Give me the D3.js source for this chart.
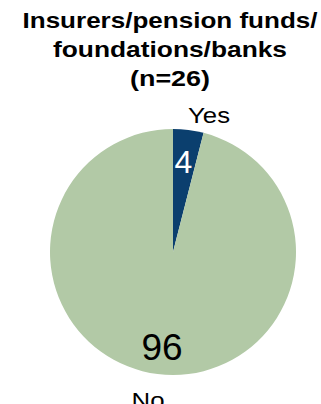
<!DOCTYPE html>
<html>
<head>
<meta charset="utf-8">
<script src="https://cdn.jsdelivr.net/npm/d3@7"></script>
<style>
  html, body { margin: 0; padding: 0; background: #fff; }
  svg { display: block; font-family: "Liberation Sans", Arial, sans-serif; }
</style>
</head>
<body>
<svg id="chart" width="321" height="404"></svg>
<script>
// Share of respondents (%), n=26
const categories = ["Yes", "No"];
const values = [4, 96];
const colors = ["#0b3f6e", "#b2c9a6"];
const titleLines = ["Insurers/pension funds/", "foundations/banks", "(n=26)"];

const svg = d3.select("#chart");
const cx = 173, cy = 252, r = 123;

// Title: wide bold lines, each stretched to its set width
const titleWidths = [295, 234, 80];
svg.append("g").selectAll("text")
  .data(titleLines)
  .join("text")
  .attr("x", 170)
  .attr("y", (d, i) => 28 + i * 29)
  .attr("text-anchor", "middle")
  .attr("font-weight", "bold")
  .attr("font-size", 22)
  .attr("textLength", (d, i) => titleWidths[i])
  .attr("lengthAdjust", "spacingAndGlyphs")
  .attr("fill", "#000")
  .text(d => d);

const pie = d3.pie().sort(null).value(d => d.v);
const arcs = pie(categories.map((c, i) => ({ c, v: values[i], col: colors[i] })));
const arc = d3.arc().innerRadius(0).outerRadius(r);

const g = svg.append("g").attr("transform", `translate(${cx},${cy})`);
g.selectAll("path")
  .data(arcs)
  .join("path")
  .attr("d", arc)
  .attr("fill", d => d.data.col);

// Value labels inside slices
const valuePos = [
  { x: 183.5 - cx, y: 173 - cy, fill: "#fff", size: 32 },
  { x: 162 - cx, y: 360 - cy, fill: "#000", size: 37 }
];
g.selectAll("text.val")
  .data(arcs)
  .join("text")
  .attr("class", "val")
  .attr("x", (d, i) => valuePos[i].x)
  .attr("y", (d, i) => valuePos[i].y)
  .attr("text-anchor", "middle")
  .attr("font-size", (d, i) => valuePos[i].size)
  .attr("fill", (d, i) => valuePos[i].fill)
  .text(d => d.data.v);

// Category labels outside the pie
const catPos = [
  { x: 209, y: 123, w: 42 },
  { x: 148, y: 408, w: 33 }
];
svg.selectAll("text.cat")
  .data(categories)
  .join("text")
  .attr("class", "cat")
  .attr("x", (d, i) => catPos[i].x)
  .attr("y", (d, i) => catPos[i].y)
  .attr("text-anchor", "middle")
  .attr("font-size", 22)
  .attr("textLength", (d, i) => catPos[i].w)
  .attr("lengthAdjust", "spacingAndGlyphs")
  .attr("fill", "#000")
  .text(d => d);
</script>
</body>
</html>
